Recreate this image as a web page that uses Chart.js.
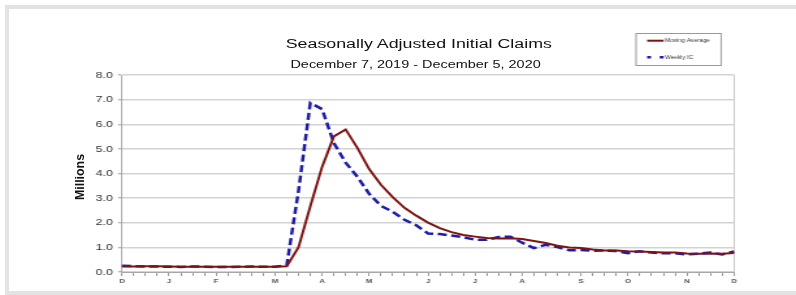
<!DOCTYPE html>
<html>
<head>
<meta charset="utf-8">
<title>Seasonally Adjusted Initial Claims</title>
<script src="https://cdn.jsdelivr.net/npm/chart.js@4.4.1/dist/chart.umd.min.js"></script>
<style>
  html, body { margin: 0; padding: 0; background: #fff; }
  body { width: 796px; height: 295px; position: relative; overflow: hidden; font-family: 'Liberation Sans', Arial, sans-serif; }
  /* the reference is a horizontally stretched export, so the whole chart is drawn narrow and stretched */
  #stage { position: absolute; left: 0; top: 0; width: 612px; height: 295px; transform: scaleX(1.3007); transform-origin: 0 0; }
  #stage canvas { display: block; }
  .head { position: absolute; left: 0; text-align: center; color: #111; white-space: nowrap; }
  #title { top: 37px; width: 644px; font-size: 13.7px; line-height: 14px; }
  #subtitle { top: 58px; width: 639px; font-size: 11.1px; line-height: 12px; }
  /* axis title sits outside the stretched stage so it keeps its narrow look */
  #ytitle { position: absolute; left: 50px; top: 169px; width: 60px; height: 16px; line-height: 16px;
            text-align: center; font-size: 12.4px; font-weight: bold; color: #111; transform: rotate(-90deg); }
  .frame { position: absolute; background: #e3e3e3; }
</style>
</head>
<body>
<div id="stage">
  <div id="title" class="head">Seasonally Adjusted Initial Claims</div>
  <div id="subtitle" class="head">December 7, 2019 - December 5, 2020</div>
  <canvas id="claimsChart"></canvas>
</div>
<div id="ytitle">Millions</div>
<div class="frame" style="left:5px;top:5px;width:791px;height:4px"></div>
<div class="frame" style="left:5px;top:5px;width:4px;height:290px"></div>
<div class="frame" style="left:5px;top:291px;width:791px;height:4px"></div>

<script>
// weeks ending Dec 7, 2019 ... Dec 5, 2020, month letter on the first week of each month
const weekLabels = [
  'D', '', '', '',
  'J', '', '', '',
  'F', '', '', '', '',
  'M', '', '', '',
  'A', '', '', '',
  'M', '', '', '', '',
  'J', '', '', '',
  'J', '', '', '',
  'A', '', '', '', '',
  'S', '', '', '',
  'O', '', '', '', '',
  'N', '', '', '',
  'D'
];

// millions
const movingAvg = [
  0.225, 0.226, 0.229, 0.233, 0.224, 0.217, 0.217, 0.215, 0.212, 0.212, 0.209, 0.210, 0.213, 0.214,
  0.232, 1.004, 2.667, 4.268, 5.507, 5.790, 5.040, 4.181, 3.543, 3.044, 2.608, 2.288, 2.008, 1.782,
  1.621, 1.500, 1.436, 1.378, 1.363, 1.369, 1.339, 1.255, 1.175, 1.069, 0.992, 0.972, 0.913, 0.878,
  0.870, 0.839, 0.833, 0.812, 0.790, 0.787, 0.754, 0.742, 0.750, 0.739, 0.776
];

const weeklyIC = [
  0.252, 0.235, 0.224, 0.222, 0.214, 0.207, 0.223, 0.216, 0.203, 0.205, 0.211, 0.219, 0.216, 0.211,
  0.282, 3.307, 6.867, 6.615, 5.237, 4.442, 3.867, 3.176, 2.687, 2.446, 2.123, 1.897, 1.566, 1.540,
  1.482, 1.413, 1.310, 1.307, 1.422, 1.435, 1.191, 0.971, 1.104, 1.011, 0.880, 0.893, 0.866, 0.873,
  0.849, 0.767, 0.842, 0.791, 0.758, 0.757, 0.711, 0.743, 0.787, 0.716, 0.830
];

const seriesNames = ['Moving Average', 'Weekly IC'];

Chart.defaults.font.family = "'Liberation Sans', Arial, sans-serif";

// small boxed legend in the top right corner
const boxLegend = {
  id: 'boxLegend',
  afterDraw(chart, args, opts) {
    const ctx = chart.ctx;
    ctx.save();
    ctx.strokeStyle = opts.borderColor;
    ctx.lineWidth = 1;
    ctx.strokeRect(opts.x, opts.y, opts.width, opts.height);
    chart.data.datasets.forEach((ds, i) => {
      const y = opts.y + opts.rowTop + i * opts.rowGap;
      const x0 = opts.x + opts.sampleLeft;
      ctx.beginPath();
      ctx.setLineDash(ds.borderDash ? opts.sampleDash : []);
      ctx.strokeStyle = ds.borderColor;
      ctx.lineWidth = ds.borderWidth;
      ctx.moveTo(x0, y);
      ctx.lineTo(x0 + opts.sampleWidth, y);
      ctx.stroke();
      ctx.setLineDash([]);
      ctx.fillStyle = opts.color;
      ctx.font = opts.fontSize + "px 'Liberation Sans', Arial, sans-serif";
      ctx.textBaseline = 'middle';
      ctx.fillText(ds.label, x0 + opts.sampleWidth + 1, y);
    });
    ctx.restore();
  }
};

new Chart(document.getElementById('claimsChart'), {
  type: 'line',
  data: {
    labels: weekLabels,
    datasets: [{
      label: seriesNames[0],
      data: movingAvg,
      borderColor: '#7d1414',
      borderWidth: 2,
      pointRadius: 0,
      tension: 0
    }, {
      label: seriesNames[1],
      data: weeklyIC,
      borderColor: '#1c1ca8',
      borderWidth: 2.5,
      borderDash: [7, 3.5],
      pointRadius: 0,
      tension: 0
    }]
  },
  options: {
    responsive: true,
    maintainAspectRatio: false,
    animation: false,
    events: [],
    layout: { padding: { left: 50, right: 47.7, top: 75, bottom: 0 } },
    plugins: {
      legend: { display: false },
      tooltip: { enabled: false },
      boxLegend: {
        x: 489, y: 33.5, width: 65.4, height: 32,
        rowTop: 7.2, rowGap: 16.6,
        sampleLeft: 8.5, sampleWidth: 12.7, sampleDash: [3, 6.7],
        fontSize: 4.8, color: '#333', borderColor: '#999'
      }
    },
    scales: {
      x: {
        offset: false,
        grid: {
          drawOnChartArea: true,
          color: c => c.index === weekLabels.length - 1 ? '#c8c8c8' : 'rgba(0,0,0,0)',
          tickColor: '#9a9a9a',
          tickLength: 4,
          lineWidth: 1
        },
        border: { color: '#a8a8a8' },
        ticks: {
          autoSkip: false, maxRotation: 0, minRotation: 0, padding: 2,
          font: { size: 6, weight: 'bold' }, color: '#555'
        },
        afterFit: s => { s.height = 23; }
      },
      y: {
        min: 0,
        max: 8,
        ticks: {
          stepSize: 1,
          callback: v => v.toFixed(1),
          padding: 4,
          font: { size: 9.6 },
          color: '#333'
        },
        grid: { color: '#d3d3d3', lineWidth: 1.5, tickColor: '#9a9a9a', tickLength: 3, tickWidth: 1 },
        border: { color: '#a8a8a8' },
        afterFit: s => { s.width = 43.8; }
      }
    }
  },
  plugins: [boxLegend]
});
</script>
</body>
</html>
